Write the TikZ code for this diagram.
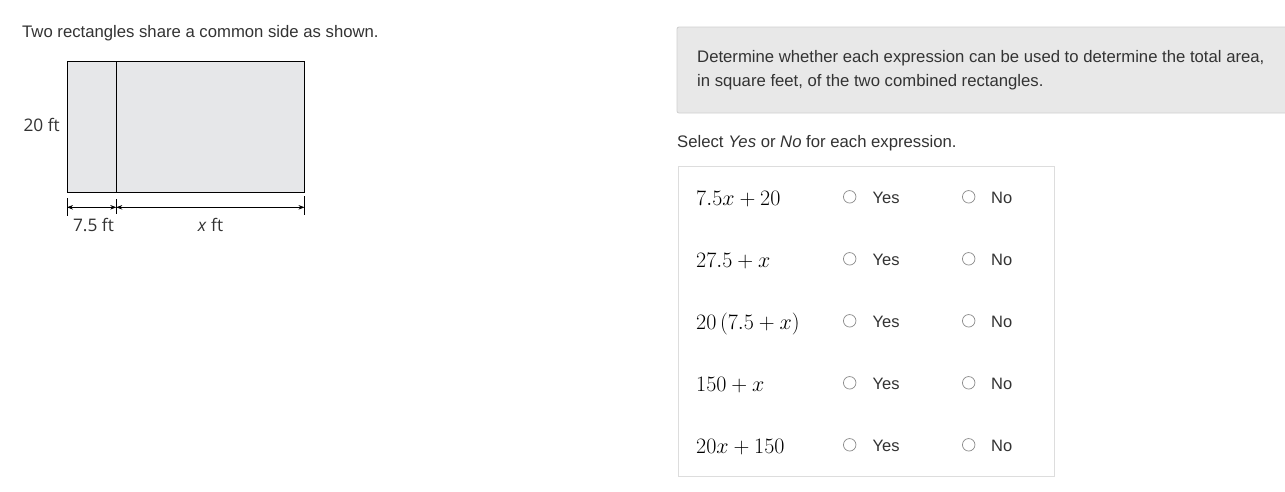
\RequirePackage{fix-cm}
\documentclass[tikz,border=0pt]{standalone}
\usepackage[no-math]{fontspec}
\setmainfont{Liberation Sans}
\newfontfamily\labelfont{Open Sans}
\usetikzlibrary{arrows.meta}
\definecolor{txt}{HTML}{333333}
\definecolor{panelfill}{HTML}{E8E8E8}
\definecolor{panelline}{HTML}{CFCFCF}
\definecolor{tableline}{HTML}{DDDDDD}
\definecolor{rectfill}{HTML}{E6E7E9}
\definecolor{radioline}{HTML}{8A8A8A}
\tikzset{
  body/.style={anchor=base west, inner sep=0pt, text=txt, font=\fontsize{16.7}{20}\selectfont},
  dimlabel/.style={anchor=base, inner sep=0pt, text=txt, font=\labelfont\fontsize{17.3}{20}\selectfont},
  expr/.style={anchor=base west, inner sep=0pt, text=black, font=\fontsize{22}{26}\selectfont},
  radio/.style={circle, draw=radioline, line width=0.7pt, minimum size=12.5pt, inner sep=0pt},
  choice/.style={anchor=base west, inner sep=0pt, text=txt, font=\fontsize{16.5}{19}\selectfont},
  dimarrow/.style={line width=0.7pt},
  tick/.style={line width=0.9pt}
}
\begin{document}
\begin{tikzpicture}[x=1pt,y=-1pt]
\useasboundingbox[fill=white] (0,0) rectangle (1285,491);
% left side
\node[body] (title) at (22,37.5) {Two rectangles share a common side as shown.};
\draw[fill=rectfill, line width=0.8pt] (67,61) rectangle (304,192);
\draw[line width=0.8pt] (116.3,61) -- (116.3,192);
\coordinate (tl) at (67,198); \coordinate (tlb) at (67,216);
\coordinate (tm) at (116.3,199); \coordinate (tmb) at (116.3,214);
\coordinate (tr) at (304.5,196); \coordinate (trb) at (304.5,215);
\draw[tick] (tl) -- (tlb);
\draw[tick] (tm) -- (tmb);
\draw[tick] (tr) -- (trb);
\coordinate (dl) at (67,207.3); \coordinate (dm) at (116.3,207.3); \coordinate (dr) at (304.5,207.3);
\draw[dimarrow, {Stealth[length=6pt,width=4.5pt]}-{Stealth[length=6pt,width=4.5pt]}] (dl) -- (dm);
\draw[dimarrow, {Stealth[length=6pt,width=4.5pt]}-{Stealth[length=6pt,width=4.5pt]}] (dm) -- (dr);
\node[dimlabel, anchor=base east] (h) at (60,131.5) {20 ft};
\node[dimlabel] (w1) at (93.5,231.5) {7.5 ft};
\node[dimlabel] (w2) at (210.5,231.5) {\textit{x} ft};
% right side panel
\draw[fill=panelfill, draw=panelline, line width=0.8pt, rounded corners=2pt] (677,27) rectangle (1290,113);
\node[body] (q1) at (697,62.5) {Determine whether each expression can be used to determine the total area,};
\node[body] (q2) at (697,86.5) {in square feet, of the two combined rectangles.};
\node[body] (sel) at (677,147.5) {Select \textit{Yes} or \textit{No} for each expression.};
\draw[draw=tableline, line width=1pt] (678.5,166.5) rectangle (1054,476);
% rows
\foreach \i/\e in {0/{$7.5x+20$},1/{$27.5+x$},2/{$20\,(7.5+x)$},3/{$150+x$},4/{$20x+150$}}{
  \node[expr] (e\i) at (696,205.5+62*\i) {\e};
  \node[radio] (ry\i) at (849.7,196.8+62*\i) {};
  \node[choice] (y\i) at (872.5,203.5+62*\i) {Yes};
  \node[radio] (rn\i) at (968.7,196.8+62*\i) {};
  \node[choice] (n\i) at (991,203.5+62*\i) {No};
}
\end{tikzpicture}
\end{document}
